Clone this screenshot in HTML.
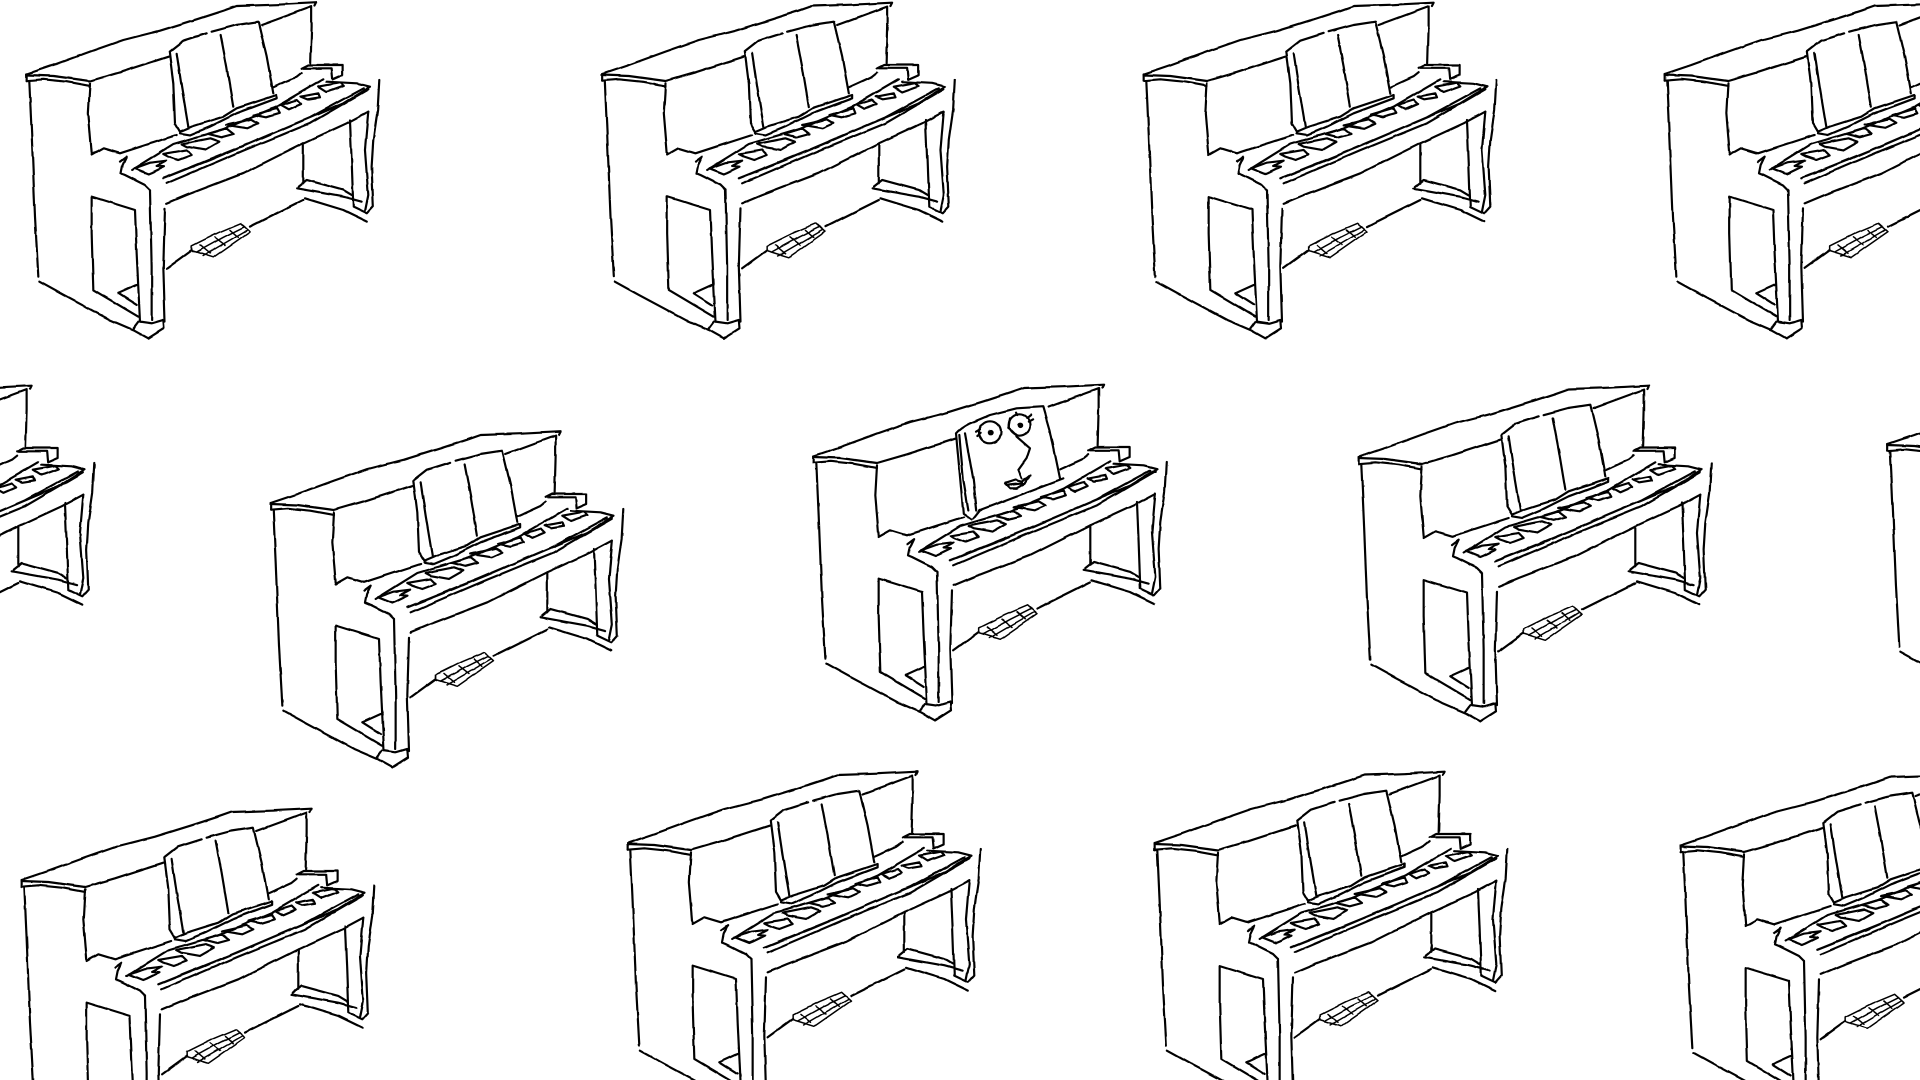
<!DOCTYPE html>
<html><head><meta charset="utf-8"><style>html,body{margin:0;padding:0;background:#fff;width:1920px;height:1080px;overflow:hidden}svg{display:block;overflow:hidden}</style></head><body>
<svg width="1920" height="1080" viewBox="0 0 1920 1080" xmlns="http://www.w3.org/2000/svg">
<defs>
<filter id="w" filterUnits="userSpaceOnUse" x="0" y="0" width="1920" height="1080">
<feTurbulence type="fractalNoise" baseFrequency="0.05" numOctaves="2" seed="4" result="n"/>
<feDisplacementMap in="SourceGraphic" in2="n" scale="2.2" xChannelSelector="R" yChannelSelector="G" result="d"/>
<feGaussianBlur in="d" stdDeviation="0.35"/>
</filter>
<g id="b" fill="none" stroke="#000" stroke-width="6.5" stroke-linecap="round" stroke-linejoin="round">
<path d="M50 222L130 195L240 155L340 120L450 92L560 58L640 32L680 18L800 14L920 8L915 18"/>
<path d="M50 242L100 238L170 245L240 258M50 225L130 228L240 243L330 217L475 170"/>
<path d="M50 222L50 242M755 75L905 20L905 80L902 190"/>
<path d="M240 250L235 340L245 460M58 245L65 400L75 650L85 830"/>
<path d="M88 845L160 885L235 925L300 960L370 990L415 1015"/>
<path d="M245 465L280 445L330 460L500 405"/>
<path d="M330 485L350 470L338 495L333 520L345 525L405 555L420 570M365 510L490 432L640 388L800 320L940 238"/>
<path d="M460 535L600 480L800 395L1000 310L1080 260L1040 250L950 245M470 550L700 452L900 370L1075 268M480 527L700 438L900 352L1060 265"/>
<path d="M790 262L860 230L875 218M875 205L895 195L998 195L998 225L968 238L965 205L880 205"/>
<path d="M420 570L425 800L425 960M465 625L460 800L465 965"/>
<path d="M470 610L530 585L700 520L880 430L1010 370L1075 335"/>
<path d="M1108 240L1103 330L1090 420L1085 500L1090 620L1072 640L1030 620M1075 335L1065 450L1075 585L1065 635M1020 360L1025 480L1030 620"/>
<path d="M880 430L880 550M865 560L890 540L1000 570L1025 585M860 565L1000 590L1055 605M885 595L1000 630L1072 665"/>
<path d="M880 600L720 680M545 750L470 805"/>
<path d="M245 590L375 630L380 760L390 965M245 590L245 700L250 870L385 950M325 880L380 855M325 880L380 915"/>
<path d="M390 965L425 970L460 960L462 985L415 1015M385 965L370 985"/>
<path d="M372 505L420 488L470 482L440 498L462 500L425 518L415 522ZM460 462L530 450L545 465L505 480L475 470ZM515 432L600 415L628 425L585 450L530 440ZM595 402L650 385L672 402L635 412ZM650 375L725 358L745 370L712 385ZM732 345L800 325L808 340L768 352ZM812 315L860 300L872 312L835 328ZM872 290L925 280L930 292L892 298ZM925 260L990 248L1000 258L950 276Z"/>
<path stroke-width="4.5" d="M545 738L625 698L692 670L720 695L610 772L545 752ZM560 756L640 712L704 680M578 768L650 726L712 690M570 735L600 760M615 712L645 735M660 690L685 712"/>
</g>
<g id="d" fill="none" stroke="#000" stroke-width="6.5" stroke-linecap="round" stroke-linejoin="round">
<path d="M478 155L490 250L495 370L510 395M478 155L520 122L590 100M605 95L680 75L745 65L770 170L790 280M500 160L515 260L535 380M632 105L650 200L670 320"/>
<path d="M510 395L545 380L640 350L680 325L800 285L800 295L680 340L600 380L540 405L510 400"/>
</g>
</defs>
<rect width="1920" height="1080" fill="#fff"/>
<g filter="url(#w)">
<use href="#b" transform="translate(10 0) scale(.3333)"/><use href="#d" transform="translate(10 0) scale(.3333)"/>
<use href="#b" transform="translate(585.5 0) scale(.3333)"/><use href="#d" transform="translate(585.5 0) scale(.3333)"/>
<use href="#b" transform="translate(1127 0) scale(.3333)"/><use href="#d" transform="translate(1127 0) scale(.3333)"/>
<use href="#b" transform="translate(1648 0) scale(.3333)"/><use href="#d" transform="translate(1648 0) scale(.3333)"/>
<use href="#b" transform="translate(-275 383) scale(.3333)"/><use href="#d" transform="translate(-275 383) scale(.3333)"/>
<use href="#b" transform="translate(254 429) scale(.3333)"/><use href="#d" transform="translate(254 429) scale(.3333)"/>
<use href="#b" transform="translate(797 382) scale(.3333)"/>
<use href="#b" transform="translate(1342 383) scale(.3333)"/><use href="#d" transform="translate(1342 383) scale(.3333)"/>
<use href="#b" transform="translate(1871 370) scale(.3333)"/><use href="#d" transform="translate(1871 370) scale(.3333)"/>
<use href="#b" transform="translate(5 806) scale(.3333)"/><use href="#d" transform="translate(5 806) scale(.3333)"/>
<use href="#b" transform="translate(611 769) scale(.3333)"/><use href="#d" transform="translate(611 769) scale(.3333)"/>
<use href="#b" transform="translate(1138 769) scale(.3333)"/><use href="#d" transform="translate(1138 769) scale(.3333)"/>
<use href="#b" transform="translate(1664 771) scale(.3333)"/><use href="#d" transform="translate(1664 771) scale(.3333)"/>
<g transform="translate(940 400) scale(.3333)" fill="none" stroke="#000" stroke-width="6.5" stroke-linecap="round" stroke-linejoin="round">
<path d="M48 100L60 230L70 340L95 358M48 100Q60 85 90 70L150 45L230 25L310 20L330 90L360 235"/>
<path d="M75 100L100 240L110 330M58 105L70 240L85 330"/>
<path d="M370 235L120 330L100 355"/>
<circle cx="150" cy="97" r="33"/><circle cx="238" cy="75" r="32"/>
<circle cx="153" cy="98" r="5" fill="#000"/><circle cx="240" cy="76" r="5" fill="#000"/>
<path d="M210 55L205 85L230 110L270 145L260 175L235 210L245 235"/>
<path d="M195 250L225 240L245 245L270 225L255 250L230 265L210 265ZM205 255L250 250"/>
<path d="M108 95L120 88M112 108L122 100M260 55L272 45M265 65L278 58M228 38L232 45"/>
</g>
</g>
</svg>
</body></html>
